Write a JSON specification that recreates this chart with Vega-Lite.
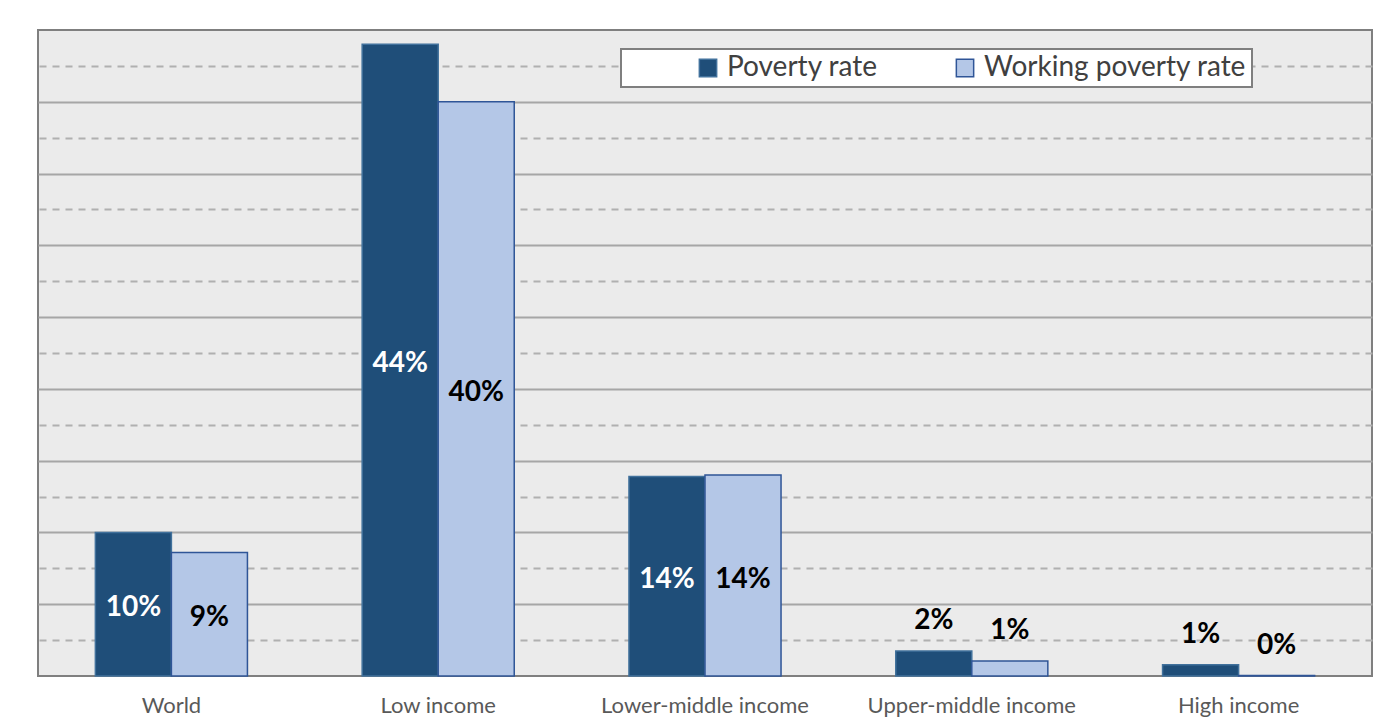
{
  "$schema": "https://vega.github.io/schema/vega-lite/v6.json",
  "width": 1334,
  "height": 646,
  "autosize": {"type": "none"},
  "padding": {"left": 38, "top": 30, "right": 9, "bottom": 51},
  "background": "white",
  "config": {
    "view": {"fill": "#ebebeb", "stroke": "#7f7f7f", "strokeWidth": 2},
    "font": "Lato"
  },
  "data": {
    "values": [
      {"region": "World", "series": "Poverty rate", "value": 0.100},
      {"region": "World", "series": "Working poverty rate", "value": 0.086},
      {"region": "Low income", "series": "Poverty rate", "value": 0.440},
      {"region": "Low income", "series": "Working poverty rate", "value": 0.400},
      {"region": "Lower-middle income", "series": "Poverty rate", "value": 0.139},
      {"region": "Lower-middle income", "series": "Working poverty rate", "value": 0.140},
      {"region": "Upper-middle income", "series": "Poverty rate", "value": 0.0175},
      {"region": "Upper-middle income", "series": "Working poverty rate", "value": 0.0105},
      {"region": "High income", "series": "Poverty rate", "value": 0.0078},
      {"region": "High income", "series": "Working poverty rate", "value": 0.0003}
    ]
  },
  "encoding": {
    "x": {
      "field": "region",
      "type": "nominal",
      "sort": null,
      "scale": {"paddingInner": 0.43, "paddingOuter": 0.215},
      "axis": {
        "title": null,
        "labelAngle": 0,
        "labelFontSize": 22,
        "labelColor": "#595959",
        "labelPadding": 19,
        "labelLimit": 400,
        "ticks": false,
        "domain": false,
        "grid": false
      }
    },
    "xOffset": {
      "field": "series",
      "type": "nominal",
      "sort": null,
      "scale": {"paddingInner": 0, "paddingOuter": 0}
    }
  },
  "layer": [
    {
      "mark": {"type": "bar", "strokeWidth": 1.5},
      "encoding": {
        "y": {
          "field": "value",
          "type": "quantitative",
          "scale": {"domain": [0, 0.45], "nice": false},
          "axis": {
            "values": [0.05, 0.1, 0.15, 0.2, 0.25, 0.3, 0.35, 0.4],
            "grid": true,
            "gridColor": "#a6a6a6",
            "gridWidth": 2,
            "labels": false,
            "ticks": false,
            "domain": false,
            "title": null
          }
        },
        "color": {
          "field": "series",
          "type": "nominal",
          "sort": null,
          "scale": {"range": ["#1f4e79", "#b4c7e7"]},
          "legend": {
            "title": " ",
            "titleOrient": "left",
            "titleFontSize": 2,
            "titlePadding": 68,
            "orient": "none",
            "legendX": 583,
            "legendY": 19,
            "direction": "horizontal",
            "fillColor": "white",
            "strokeColor": "#7f7f7f",
            "padding": 5,
            "columnPadding": 73,
            "labelFontSize": 28,
            "labelColor": "#404040",
            "labelLimit": 400,
            "symbolType": "square",
            "symbolSize": 300,
            "symbolStrokeColor": "#2f5597",
            "symbolStrokeWidth": 1.5,
            "labelOffset": 5,
            "encode": {"legend": {"update": {"strokeWidth": {"value": 2}}}}
          }
        },
        "stroke": {
          "field": "series",
          "type": "nominal",
          "sort": null,
          "scale": {"range": ["#41719c", "#2f5597"]},
          "legend": null
        }
      }
    },
    {
      "transform": [{"filter": "datum.value >= 0.05"}],
      "mark": {
        "type": "text",
        "fontSize": 28,
        "fontWeight": "bold",
        "baseline": "middle",
        "align": "center",
        "dy": {"expr": "(height - scale('y', datum.value)) / 2 + 4"}
      },
      "encoding": {
        "y": {
          "field": "value",
          "type": "quantitative",
          "axis": {
            "values": [0.025, 0.075, 0.125, 0.175, 0.225, 0.275, 0.325, 0.375, 0.425],
            "grid": true,
            "gridColor": "#b0b0b0",
            "gridWidth": 2,
            "gridDash": [7, 6],
            "labels": false,
            "ticks": false,
            "domain": false,
            "title": null
          }
        },
        "text": {"field": "value", "type": "quantitative", "format": ".0%"},
        "color": {
          "condition": {"test": "datum.series === 'Poverty rate'", "value": "white"},
          "value": "black"
        }
      }
    },
    {
      "transform": [{"filter": "datum.value < 0.05"}],
      "mark": {"type": "text", "fontSize": 28, "fontWeight": "bold", "baseline": "bottom", "align": "center", "dy": -16, "color": "black"},
      "encoding": {
        "y": {"field": "value", "type": "quantitative", "axis": null},
        "text": {"field": "value", "type": "quantitative", "format": ".0%"}
      }
    }
  ],
  "resolve": {"axis": {"y": "independent"}}
}
